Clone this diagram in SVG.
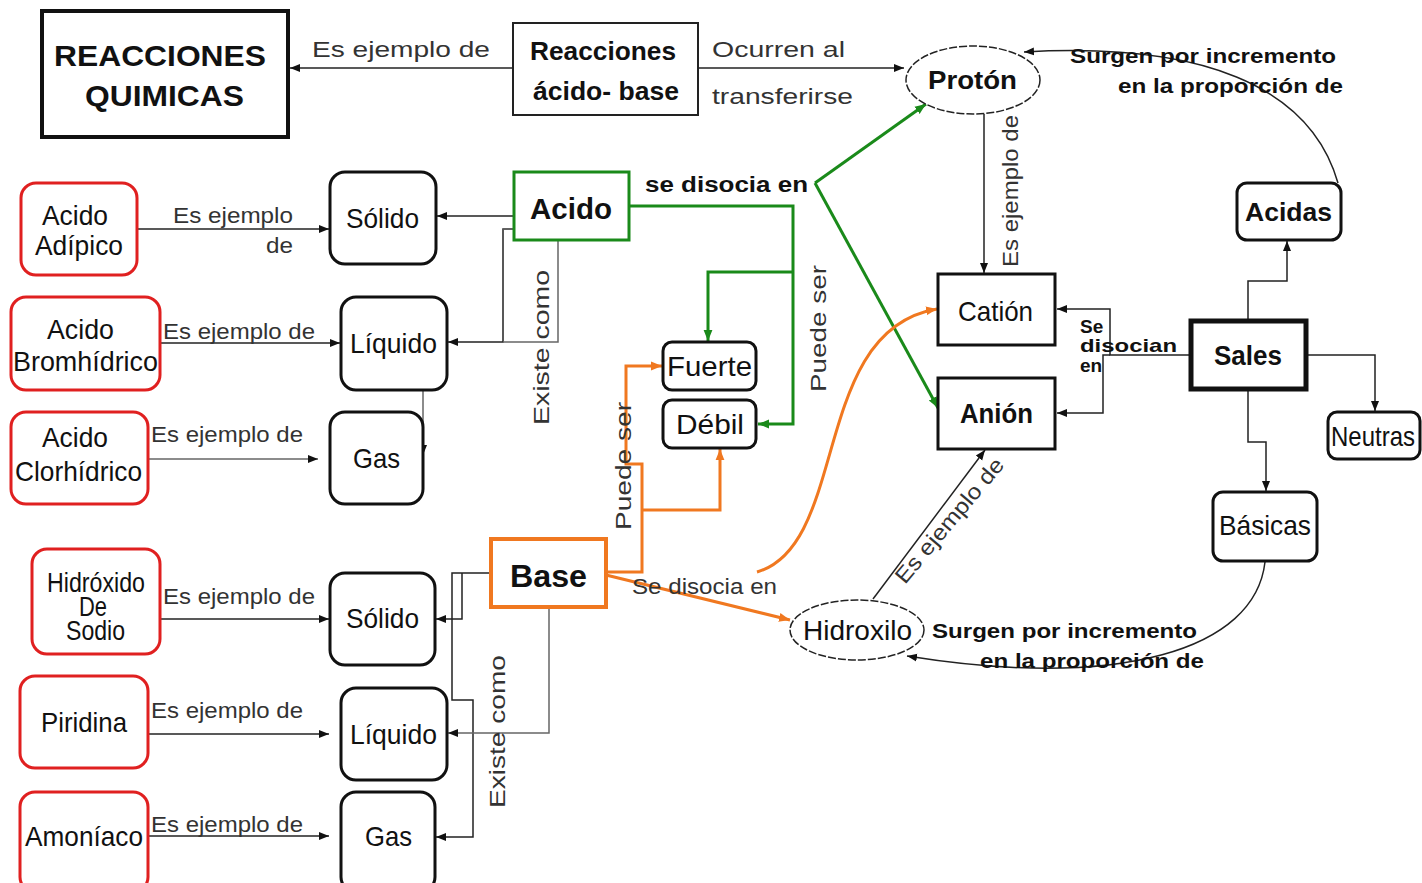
<svg xmlns="http://www.w3.org/2000/svg" width="1422" height="883" viewBox="0 0 1422 883">
<defs>
<marker id="ah" viewBox="0 0 10 10" refX="10" refY="5" markerWidth="10" markerHeight="10" markerUnits="userSpaceOnUse" orient="auto"><path d="M0,1 L10,5 L0,9 z" fill="#111"/></marker>
<marker id="ahg" viewBox="0 0 10 10" refX="10" refY="5" markerWidth="11" markerHeight="11" markerUnits="userSpaceOnUse" orient="auto"><path d="M0,1 L10,5 L0,9 z" fill="#1a8a1a"/></marker>
<marker id="aho" viewBox="0 0 10 10" refX="10" refY="5" markerWidth="11" markerHeight="11" markerUnits="userSpaceOnUse" orient="auto"><path d="M0,1 L10,5 L0,9 z" fill="#f07820"/></marker>
</defs>
<style>
text{font-family:"Liberation Sans",Arial,sans-serif;fill:#111}
.b{font-weight:bold}
.n{font-size:28px}
.l{font-size:22px;fill:#333}
.c{stroke:#222;stroke-width:1.5;fill:none}
.cg{stroke:#666;stroke-width:1.5;fill:none}
.g{stroke:#1a8a1a;stroke-width:3;fill:none}
.o{stroke:#f07820;stroke-width:3;fill:none}
.rb{fill:#fff;stroke:#e02020;stroke-width:3}
.kb{fill:#fff;stroke:#111;stroke-width:3}
</style>
<rect width="1422" height="883" fill="#fff"/>

<g id="connectors">
<path class="c" d="M513,68 L290,68" marker-end="url(#ah)"/>
<path class="c" d="M698,68 L904,68" marker-end="url(#ah)"/>
<path class="c" d="M1338,183 C1310,85 1200,42 1024,52" marker-end="url(#ah)"/>
<path class="c" d="M984,114 L984,273" marker-end="url(#ah)"/>
<path class="c" d="M1248,320 L1248,281 L1287,281 L1287,241" marker-end="url(#ah)"/>
<path class="c" d="M1307,355 L1375,355 L1375,411" marker-end="url(#ah)"/>
<path class="c" d="M1248,390 L1248,442 L1266,442 L1266,491" marker-end="url(#ah)"/>
<path class="c" d="M1190,355 L1110,355 L1110,309 L1057,309" marker-end="url(#ah)"/>
<path class="c" d="M1110,355 L1103,355 L1103,413 L1057,413" marker-end="url(#ah)"/>
<path class="c" d="M1265,562 C1255,650 1120,690 907,656" marker-end="url(#ah)"/>
<path class="c" d="M873,599 L985,450" marker-end="url(#ah)"/>
<path class="g" d="M629,206 L793,206 L793,424 L758,424" marker-end="url(#ahg)"/>
<path class="g" d="M793,272 L708,272 L708,341" marker-end="url(#ahg)"/>
<path class="g" d="M815,183 L926,104" marker-end="url(#ahg)"/>
<path class="g" d="M815,183 L938,408" marker-end="url(#ahg)"/>
<path class="o" d="M607,572 L642,572 L642,464 L626,464 L626,366 L662,366" marker-end="url(#aho)"/>
<path class="o" d="M642,510 L720,510 L720,449" marker-end="url(#aho)"/>
<path class="o" d="M606,575 L790,620" marker-end="url(#aho)"/>
<path class="o" stroke-width="2.5" d="M757,572 C850,545 810,330 937,309" marker-end="url(#aho)"/>
<path class="c" d="M514,216 L437,216" marker-end="url(#ah)"/>
<path class="c" d="M514,229 L503,229 L503,342 L448,342" marker-end="url(#ah)"/>
<path class="cg" d="M503,229 L558,229 L558,342 L503,342"/>
<path class="cg" d="M423,352 L423,455" marker-end="url(#ah)"/>
<path class="c" d="M137,229 L329,229" marker-end="url(#ah)"/>
<path class="c" d="M160,343 L340,343" marker-end="url(#ah)"/>
<path class="cg" d="M148,459 L318,459" marker-end="url(#ah)"/>
<path class="c" d="M148,619 L329,619" marker-end="url(#ah)"/>
<path class="c" d="M148,734 L329,734" marker-end="url(#ah)"/>
<path class="c" d="M148,836 L329,836" marker-end="url(#ah)"/>
<path class="c" d="M491,573 L452,573 L452,700 L473,700 L473,837 L436,837" marker-end="url(#ah)"/>
<path class="c" d="M462,573 L462,619 L436,619" marker-end="url(#ah)"/>
<path class="cg" d="M549,607 L549,733 L448,733" marker-end="url(#ah)"/>
</g>

<g id="labels">
<text class="l" font-size="25" x="312" y="57" textLength="178" lengthAdjust="spacingAndGlyphs">Es ejemplo de</text>
<text class="l" font-size="25" x="712" y="57" textLength="133" lengthAdjust="spacingAndGlyphs">Ocurren al</text>
<text class="l" font-size="25" x="712" y="104" textLength="141" lengthAdjust="spacingAndGlyphs">transferirse</text>
<text class="b" font-size="21" x="1070" y="63" textLength="266" lengthAdjust="spacingAndGlyphs">Surgen por incremento</text>
<text class="b" font-size="21" x="1118" y="93" textLength="225" lengthAdjust="spacingAndGlyphs">en la proporción de</text>
<text class="l" font-size="23" transform="translate(1018,267) rotate(-90)" textLength="152" lengthAdjust="spacingAndGlyphs">Es ejemplo de</text>
<text class="b" font-size="19" x="1080" y="333">Se</text>
<text class="b" font-size="19" x="1080" y="352" textLength="97" lengthAdjust="spacingAndGlyphs">disocian</text>
<text class="b" font-size="19" x="1080" y="372">en</text>
<text class="b" font-size="20" x="932" y="638" textLength="265" lengthAdjust="spacingAndGlyphs">Surgen por incremento</text>
<text class="b" font-size="20" x="980" y="668" textLength="224" lengthAdjust="spacingAndGlyphs">en la proporción de</text>
<text class="l" font-size="22" transform="translate(905,585) rotate(-50)" textLength="156" lengthAdjust="spacingAndGlyphs">Es ejemplo de</text>
<text class="b" font-size="22" x="645" y="192" textLength="163" lengthAdjust="spacingAndGlyphs">se disocia en</text>
<text class="l" font-size="24" transform="translate(826,392) rotate(-90)" textLength="127" lengthAdjust="spacingAndGlyphs">Puede ser</text>
<text class="l" font-size="24" transform="translate(549,425) rotate(-90)" textLength="155" lengthAdjust="spacingAndGlyphs">Existe como</text>
<text class="l" font-size="24" transform="translate(631,530) rotate(-90)" textLength="128" lengthAdjust="spacingAndGlyphs">Puede ser</text>
<text class="l" font-size="21" x="632" y="594" textLength="145" lengthAdjust="spacingAndGlyphs">Se disocia en</text>
<text class="l" font-size="24" transform="translate(505,808) rotate(-90)" textLength="153" lengthAdjust="spacingAndGlyphs">Existe como</text>
<text class="l" font-size="21" x="173" y="223" textLength="120" lengthAdjust="spacingAndGlyphs">Es ejemplo</text>
<text class="l" font-size="21" x="266" y="253" textLength="27" lengthAdjust="spacingAndGlyphs">de</text>
<text class="l" font-size="21" x="163" y="339" textLength="152" lengthAdjust="spacingAndGlyphs">Es ejemplo de</text>
<text class="l" font-size="21" x="151" y="442" textLength="152" lengthAdjust="spacingAndGlyphs">Es ejemplo de</text>
<text class="l" font-size="21" x="163" y="604" textLength="152" lengthAdjust="spacingAndGlyphs">Es ejemplo de</text>
<text class="l" font-size="21" x="151" y="718" textLength="152" lengthAdjust="spacingAndGlyphs">Es ejemplo de</text>
<text class="l" font-size="21" x="151" y="832" textLength="152" lengthAdjust="spacingAndGlyphs">Es ejemplo de</text>
</g>

<g id="reacciones-quimicas">
<rect x="42" y="11" width="246" height="126" fill="#fff" stroke="#111" stroke-width="4"/>
<text class="b" font-size="30" x="54" y="66" textLength="212" lengthAdjust="spacingAndGlyphs">REACCIONES</text>
<text class="b" font-size="30" x="85" y="106" textLength="159" lengthAdjust="spacingAndGlyphs">QUIMICAS</text>
</g>
<g id="reacciones-acido-base">
<rect x="513" y="23" width="185" height="92" fill="#fff" stroke="#222" stroke-width="2"/>
<text class="b" font-size="26" x="530" y="60" textLength="146" lengthAdjust="spacingAndGlyphs">Reacciones</text>
<text class="b" font-size="26" x="533" y="100" textLength="146" lengthAdjust="spacingAndGlyphs">ácido- base</text>
</g>
<g id="proton">
<ellipse cx="973" cy="80" rx="67" ry="34" fill="#fff" stroke="#222" stroke-width="1.5" stroke-dasharray="8 2"/>
<text class="b" font-size="26" x="928" y="89" textLength="89" lengthAdjust="spacingAndGlyphs">Protón</text>
</g>
<g id="acidas">
<rect x="1237" y="183" width="104" height="57" rx="10" class="kb"/>
<text class="b" font-size="26" x="1245" y="221" textLength="87" lengthAdjust="spacingAndGlyphs">Acidas</text>
</g>
<g id="cation">
<rect x="938" y="274" width="117" height="71" class="kb"/>
<text class="n" x="958" y="321" textLength="75" lengthAdjust="spacingAndGlyphs">Catión</text>
</g>
<g id="anion">
<rect x="938" y="378" width="117" height="71" class="kb"/>
<text class="b" font-size="28" x="960" y="423" textLength="73" lengthAdjust="spacingAndGlyphs">Anión</text>
</g>
<g id="sales">
<rect x="1191" y="321" width="115" height="68" fill="#fff" stroke="#111" stroke-width="5"/>
<text class="b" font-size="28" x="1214" y="365" textLength="68" lengthAdjust="spacingAndGlyphs">Sales</text>
</g>
<g id="neutras">
<rect x="1328" y="412" width="92" height="47" rx="9" class="kb"/>
<text class="n" font-size="26" x="1331" y="446" textLength="84" lengthAdjust="spacingAndGlyphs">Neutras</text>
</g>
<g id="basicas">
<rect x="1213" y="492" width="104" height="69" rx="10" class="kb"/>
<text class="n" x="1219" y="535" textLength="92" lengthAdjust="spacingAndGlyphs">Básicas</text>
</g>
<g id="hidroxilo">
<ellipse cx="857" cy="630" rx="67" ry="30" fill="#fff" stroke="#222" stroke-width="1.5" stroke-dasharray="8 2"/>
<text class="n" font-size="26" x="803" y="640" textLength="109" lengthAdjust="spacingAndGlyphs">Hidroxilo</text>
</g>
<g id="acido">
<rect x="514" y="172" width="115" height="68" fill="#fff" stroke="#1a8a1a" stroke-width="3"/>
<text class="b" font-size="30" x="530" y="219" textLength="82" lengthAdjust="spacingAndGlyphs">Acido</text>
</g>
<g id="fuerte">
<rect x="663" y="342" width="93" height="48" rx="9" class="kb"/>
<text class="n" x="667" y="376" textLength="85" lengthAdjust="spacingAndGlyphs">Fuerte</text>
</g>
<g id="debil">
<rect x="663" y="400" width="93" height="48" rx="9" class="kb"/>
<text class="n" x="676" y="434" textLength="68" lengthAdjust="spacingAndGlyphs">Débil</text>
</g>
<g id="base">
<rect x="491" y="539" width="115" height="68" fill="#fff" stroke="#f07820" stroke-width="4"/>
<text class="b" font-size="32" x="510" y="587" textLength="77" lengthAdjust="spacingAndGlyphs">Base</text>
</g>
<g id="acido-adipico">
<rect x="21" y="183" width="116" height="92" rx="15" class="rb"/>
<text class="n" x="42" y="225" textLength="66" lengthAdjust="spacingAndGlyphs">Acido</text>
<text class="n" x="35" y="255" textLength="88" lengthAdjust="spacingAndGlyphs">Adípico</text>
</g>
<g id="solido-acido">
<rect x="330" y="172" width="106" height="92" rx="15" class="kb"/>
<text class="n" x="346" y="228" textLength="73" lengthAdjust="spacingAndGlyphs">Sólido</text>
</g>
<g id="acido-bromhidrico">
<rect x="11" y="297" width="149" height="93" rx="15" class="rb"/>
<text class="n" x="47" y="339" textLength="67" lengthAdjust="spacingAndGlyphs">Acido</text>
<text class="n" x="13" y="371" textLength="145" lengthAdjust="spacingAndGlyphs">Bromhídrico</text>
</g>
<g id="liquido-acido">
<rect x="341" y="297" width="106" height="93" rx="15" class="kb"/>
<text class="n" x="350" y="353" textLength="87" lengthAdjust="spacingAndGlyphs">Líquido</text>
</g>
<g id="acido-clorhidrico">
<rect x="11" y="412" width="137" height="92" rx="15" class="rb"/>
<text class="n" x="42" y="447" textLength="66" lengthAdjust="spacingAndGlyphs">Acido</text>
<text class="n" x="15" y="481" textLength="127" lengthAdjust="spacingAndGlyphs">Clorhídrico</text>
</g>
<g id="gas-acido">
<rect x="330" y="412" width="93" height="92" rx="15" class="kb"/>
<text class="n" x="353" y="468" textLength="47" lengthAdjust="spacingAndGlyphs">Gas</text>
</g>
<g id="hidroxido-de-sodio">
<rect x="32" y="549" width="128" height="105" rx="15" class="rb"/>
<text class="n" font-size="21" x="47" y="592" textLength="98" lengthAdjust="spacingAndGlyphs">Hidróxido</text>
<text class="n" font-size="21" x="79" y="616" textLength="28" lengthAdjust="spacingAndGlyphs">De</text>
<text class="n" font-size="21" x="66" y="640" textLength="59" lengthAdjust="spacingAndGlyphs">Sodio</text>
</g>
<g id="solido-base">
<rect x="330" y="573" width="105" height="92" rx="15" class="kb"/>
<text class="n" x="346" y="628" textLength="73" lengthAdjust="spacingAndGlyphs">Sólido</text>
</g>
<g id="piridina">
<rect x="20" y="676" width="128" height="92" rx="15" class="rb"/>
<text class="n" x="41" y="732" textLength="86" lengthAdjust="spacingAndGlyphs">Piridina</text>
</g>
<g id="liquido-base">
<rect x="341" y="688" width="106" height="92" rx="15" class="kb"/>
<text class="n" x="350" y="744" textLength="87" lengthAdjust="spacingAndGlyphs">Líquido</text>
</g>
<g id="amoniaco">
<rect x="20" y="792" width="128" height="100" rx="15" class="rb"/>
<text class="n" x="25" y="846" textLength="118" lengthAdjust="spacingAndGlyphs">Amoníaco</text>
</g>
<g id="gas-base">
<rect x="341" y="792" width="94" height="100" rx="15" class="kb"/>
<text class="n" x="365" y="846" textLength="47" lengthAdjust="spacingAndGlyphs">Gas</text>
</g>
</svg>
